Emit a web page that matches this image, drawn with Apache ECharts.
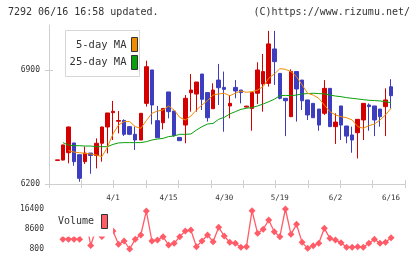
<!DOCTYPE html>
<html>
<head>
<meta charset="utf-8">
<title>7292 chart</title>
<script src="https://cdn.jsdelivr.net/npm/echarts@6/dist/echarts.min.js"></script>
<style>
  html, body { margin: 0; padding: 0; background: #fff; }
  #chart { width: 420px; height: 259px; }
</style>
</head>
<body>
<div id="chart"></div>
<script>
// one slot per trading day, first slot and last two are empty
var dates = [
  '3/14','3/17','3/18','3/19','3/21','3/24','3/25','3/26','3/27','3/28','3/31',
  '4/1','4/2','4/3','4/4','4/7','4/8','4/9','4/10','4/11','4/14',
  '4/15','4/16','4/17','4/18','4/21','4/22','4/23','4/24','4/25','4/28',
  '4/30','5/1','5/2','5/7','5/8','5/9','5/12','5/13','5/14','5/15',
  '5/19','5/20','5/21','5/22','5/23','5/26','5/27','5/28','5/29','5/30',
  '6/2','6/3','6/4','6/5','6/6','6/9','6/10','6/11','6/12','6/13',
  '6/16','6/17','6/18'
];
var shownDates = ['4/1', '4/15', '4/30', '5/19', '6/2', '6/16'];

// [open, close, low, high]
var candles = [
  '-',
  [6345, 6348, 6345, 6348], [6347, 6440, 6345, 6440], [6392, 6550, 6327, 6552],
  [6452, 6337, 6312, 6452], [6380, 6235, 6214, 6380], [6337, 6390, 6323, 6429],
  [6390, 6375, 6263, 6390], [6375, 6450, 6296, 6480], [6450, 6550, 6337, 6552],
  [6550, 6636, 6388, 6636], [6638, 6646, 6470, 6710], [6585, 6590, 6511, 6648],
  [6590, 6505, 6495, 6597], [6552, 6505, 6500, 6555], [6505, 6470, 6409, 6552],
  [6470, 6634, 6470, 6634], [6695, 6920, 6675, 6957], [6900, 6685, 6566, 6900],
  [6589, 6484, 6484, 6679], [6576, 6664, 6535, 6664], [6765, 6644, 6603, 6765],
  [6648, 6497, 6490, 6648], [6486, 6466, 6466, 6486], [6562, 6726, 6450, 6746],
  [6760, 6777, 6644, 6875], [6752, 6826, 6644, 6826], [6875, 6720, 6654, 6875],
  [6761, 6607, 6583, 6761], [6662, 6777, 6662, 6818], [6838, 6791, 6685, 6937],
  [6793, 6781, 6521, 6890], [6679, 6695, 6603, 6746], [6793, 6771, 6726, 6838],
  [6777, 6761, 6695, 6777], [6672, 6678, 6670, 6680], [6664, 6761, 6527, 6761],
  [6757, 6900, 6691, 6947], [6814, 6890, 6644, 6998], [6818, 7060, 6798, 7140],
  [7029, 6951, 6808, 7140], [6879, 6726, 6720, 6880], [6726, 6711, 6494, 6726],
  [6613, 6890, 6613, 6904], [6890, 6783, 6583, 6890], [6838, 6711, 6654, 6838],
  [6716, 6624, 6593, 6716], [6695, 6607, 6607, 6695], [6660, 6562, 6527, 6660],
  [6634, 6787, 6624, 6838], [6787, 6552, 6552, 6787], [6552, 6580, 6446, 6634],
  [6679, 6562, 6470, 6679], [6556, 6494, 6450, 6556], [6501, 6470, 6392, 6552],
  [6515, 6597, 6357, 6597], [6593, 6695, 6470, 6695], [6685, 6675, 6527, 6695],
  [6679, 6593, 6494, 6679], [6660, 6613, 6552, 6660], [6675, 6716, 6494, 6787],
  [6797, 6742, 6664, 6843],
  '-', '-'
];

var ma5 = [
  '-', '-', '-',
  6405, 6396, 6392, 6388, 6384, 6378, 6368, 6425, 6507, 6562,
  6583, 6583, 6552, 6542, 6589, 6634, 6648, 6654, 6679, 6654,
  6609, 6593, 6617, 6654, 6685, 6712, 6746, 6753, 6757, 6742,
  6757, 6771, 6763, 6767, 6777, 6798, 6849, 6875, 6908, 6904,
  6890, 6859, 6808, 6757, 6746, 6726, 6685, 6644, 6624, 6613,
  6607, 6593, 6552, 6542, 6558, 6568, 6593, 6624, 6665,
  '-', '-'
];

var ma25 = [
  '-', '-',
  6454, 6439, 6435, 6435, 6433, 6433, 6429, 6429, 6429, 6443,
  6452, 6454, 6454, 6454, 6454, 6460, 6470, 6476, 6480, 6491,
  6495, 6505, 6505, 6507, 6531, 6552, 6568, 6572, 6597, 6609,
  6630, 6644, 6658, 6665, 6669, 6679, 6691, 6705, 6720, 6742,
  6744, 6742, 6746, 6753, 6755, 6757, 6755, 6753, 6746, 6740,
  6736, 6730, 6726, 6722, 6718, 6714, 6712, 6710, 6705, 6699,
  '-', '-'
];

var volume = [
  '-', '-',
  4570, 4570, 4570, 4570, 14000, 2165, 9000, 5675, 11000, 7820,
  2620, 3920, 800, 4570, 6260, 15620, 3920, 4310, 5610, 2360,
  3010, 5610, 7820, 8210, 1710, 3920, 6260, 3660, 9250, 5870,
  3400, 3010, 1450, 1710, 15750, 6910, 8470, 12110, 7560, 5610,
  16400, 6520, 10420, 3400, 1060, 2100, 3010, 8860, 4960, 4310,
  3270, 1450, 1450, 1710, 1450, 3010, 4570, 3010, 3400, 5220,
  '-', '-'
];

var priceTicks = [6200, 6900];
var volumeTicks = [800, 8600, 16400];

var MONO = '"DejaVu Sans Mono", monospace';
var AXIS_GRAY = '#cfcfcf';
var UP = '#d40000', DOWN = '#3d3dbf';
var VOL = '#ff5c68';
var plain = function (v) { return String(v); };

var myChart = echarts.init(document.getElementById('chart'));

var option = {
  animation: false,
  backgroundColor: '#fff',
  grid: [
    { left: 49, top: 25, width: 356, height: 159 },
    { left: 49, top: 209, width: 356, height: 40 }
  ],
  xAxis: [
    {
      type: 'category', gridIndex: 0, data: dates, boundaryGap: true,
      axisLine: { show: false }, axisTick: { show: false },
      axisLabel: {
        interval: function (i, v) { return shownDates.indexOf(v) >= 0; },
        color: '#333', fontFamily: MONO, fontSize: 7.5, margin: 10
      }
    },
    {
      // evenly spaced ticks along the bottom
      type: 'value', gridIndex: 0, min: 0, max: 11, interval: 1, position: 'bottom',
      axisLine: { show: true, lineStyle: { color: AXIS_GRAY } },
      axisTick: { show: true, length: 4, lineStyle: { color: AXIS_GRAY } },
      axisLabel: { show: false }, splitLine: { show: false }
    },
    {
      type: 'value', gridIndex: 0, min: 0, max: 11, interval: 1, position: 'bottom',
      axisLine: { show: false },
      axisTick: { show: true, inside: true, length: 4, lineStyle: { color: AXIS_GRAY } },
      axisLabel: { show: false }, splitLine: { show: false }
    },
    {
      type: 'category', gridIndex: 1, data: dates, boundaryGap: true,
      axisLine: { show: false }, axisTick: { show: false }, axisLabel: { show: false }
    }
  ],
  yAxis: [
    {
      type: 'value', gridIndex: 0, min: 6200, max: 7176, position: 'left',
      axisLine: { show: true, lineStyle: { color: AXIS_GRAY } },
      axisTick: { show: true, length: 4, customValues: priceTicks, lineStyle: { color: AXIS_GRAY } },
      axisLabel: { customValues: priceTicks, formatter: plain, color: '#333',
        fontFamily: MONO, fontSize: 8, margin: 9 },
      splitLine: { show: false }
    },
    {
      type: 'value', gridIndex: 0, min: 6200, max: 7176, position: 'left', offset: 0,
      axisLine: { show: false },
      axisTick: { show: true, inside: true, length: 4, customValues: priceTicks, lineStyle: { color: AXIS_GRAY } },
      axisLabel: { show: false }, splitLine: { show: false }
    },
    {
      type: 'value', gridIndex: 1, min: 800, max: 16400, position: 'left',
      axisLine: { show: false }, axisTick: { show: false },
      axisLabel: { customValues: volumeTicks, formatter: plain, color: '#333',
        fontFamily: MONO, fontSize: 8, margin: 5 },
      splitLine: { show: false }
    }
  ],
  series: [
    {
      type: 'candlestick', name: 'price', xAxisIndex: 0, yAxisIndex: 0,
      data: candles, barWidth: 4, clip: true,
      itemStyle: { color: UP, color0: DOWN, borderColor: UP, borderColor0: DOWN, borderWidth: 1 }
    },
    {
      type: 'line', name: '25-day MA', xAxisIndex: 0, yAxisIndex: 0, data: ma25,
      showSymbol: false, lineStyle: { color: '#0aa00a', width: 1 }
    },
    {
      type: 'line', name: '5-day MA', xAxisIndex: 0, yAxisIndex: 0, data: ma5,
      showSymbol: false, lineStyle: { color: '#f08c00', width: 1 }
    },
    {
      type: 'line', name: 'Volume', xAxisIndex: 3, yAxisIndex: 2, data: volume,
      symbol: 'diamond', symbolSize: 7, showSymbol: true, showAllSymbol: true, clip: false,
      itemStyle: { color: VOL },
      lineStyle: { color: VOL, width: 1.3 }
    }
  ],
  graphic: [
    { type: 'text', z: 100, style: { text: '7292 06/16 16:58 updated.', x: 8, y: 12.5,
      verticalAlign: 'middle', font: '10px ' + MONO, fill: '#333' } },
    { type: 'text', z: 100, style: { text: '(C)https://www.rizumu.net/', x: 410, y: 12.5,
      align: 'right', verticalAlign: 'middle', font: '10px ' + MONO, fill: '#333' } },
    // moving average legend box
    { type: 'rect', z: 100, shape: { x: 65.5, y: 30.5, width: 74, height: 46 },
      style: { fill: '#fff', stroke: '#d6d6d6', lineWidth: 1 } },
    { type: 'text', z: 101, style: { text: '5-day MA', x: 126.5, y: 45.5, align: 'right',
      verticalAlign: 'middle', font: '10.5px ' + MONO, fill: '#333' } },
    { type: 'text', z: 101, style: { text: '25-day MA', x: 126.5, y: 62.5, align: 'right',
      verticalAlign: 'middle', font: '10.5px ' + MONO, fill: '#333' } },
    { type: 'rect', z: 101, shape: { x: 131.5, y: 37.5, width: 6, height: 14 },
      style: { fill: '#f08c00', stroke: '#333', lineWidth: 1 } },
    { type: 'rect', z: 101, shape: { x: 131.5, y: 55.5, width: 6, height: 14 },
      style: { fill: '#0aa00a', stroke: '#333', lineWidth: 1 } },
    // volume legend box
    { type: 'rect', z: 100, shape: { x: 55, y: 205, width: 58, height: 31.5 },
      style: { fill: '#fff' } },
    { type: 'text', z: 101, style: { text: 'Volume', x: 58, y: 221.5,
      verticalAlign: 'middle', font: '10px ' + MONO, fill: '#333' } },
    { type: 'rect', z: 101, shape: { x: 101.5, y: 214.5, width: 6, height: 14 },
      style: { fill: VOL, stroke: '#333', lineWidth: 1 } }
  ]
};

myChart.setOption(option);
</script>
</body>
</html>
